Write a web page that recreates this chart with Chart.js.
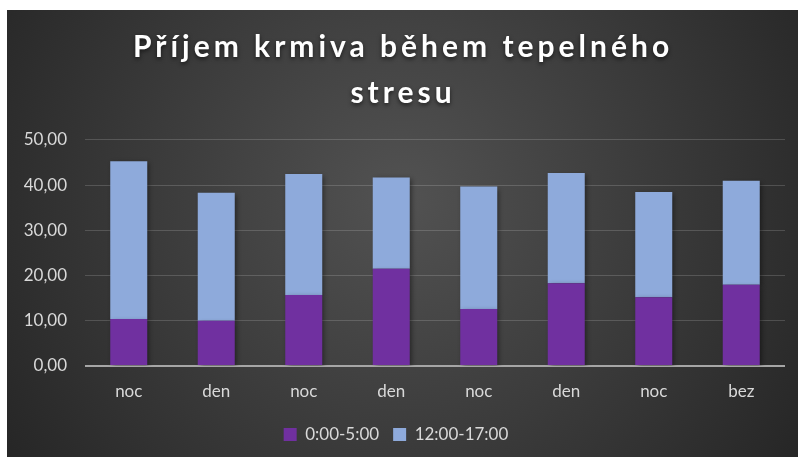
<!DOCTYPE html>
<html>
<head>
<meta charset="utf-8">
<script src="https://cdn.jsdelivr.net/npm/chart.js@4.4.0/dist/chart.umd.min.js"></script>
<style>
  html, body { margin: 0; padding: 0; background: #fff; }
  #wrap { position: absolute; left: 7px; top: 10px; width: 791px; height: 447px; }
</style>
</head>
<body>
<div id="wrap"><canvas id="feedChart" width="791" height="447"></canvas></div>
<script>
const labels = ["noc", "den", "noc", "den", "noc", "den", "noc", "bez"];
const night = [10.4, 10.0, 15.7, 21.5, 12.6, 18.3, 15.2, 18.0];   // 0:00-5:00
const day = [34.9, 28.3, 26.8, 20.2, 27.1, 24.4, 23.3, 23.0];     // 12:00-17:00
const seriesNames = ["0:00-5:00", "12:00-17:00"];
const titleLines = ["Příjem krmiva během tepelného", "stresu"];

const textGrey = '#d9d9d9';

// dark radial background like the Excel style
const bgPlugin = {
    id: 'bgPlugin',
    beforeDraw(chart) {
        const ctx = chart.ctx;
        const w = chart.width, h = chart.height;
        const g = ctx.createRadialGradient(w / 2, h * 0.42, 0, w / 2, h * 0.42, w * 0.6);
        g.addColorStop(0, '#525252');
        g.addColorStop(1, '#262626');
        ctx.save();
        ctx.fillStyle = g;
        ctx.fillRect(0, 0, w, h);
        ctx.restore();
    },
    beforeDatasetsDraw(chart) {
        const ctx = chart.ctx;
        ctx.save();
        ctx.shadowColor = 'rgba(0,0,0,0.45)';
        ctx.shadowBlur = 5;
        ctx.shadowOffsetX = 2;
        ctx.shadowOffsetY = 2;
    },
    afterDatasetsDraw(chart) {
        chart.ctx.restore();
    },
    afterLayout(chart) {
        // spaced out title with a soft glow
        const tb = chart.titleBlock;
        if (tb && !tb._spaced) {
            const orig = tb.draw;
            tb.draw = function () {
                const ctx = this.ctx;
                ctx.save();
                ctx.translate(7, 0);
                ctx.letterSpacing = '4px';
                ctx.shadowColor = 'rgba(0,0,0,0.6)';
                ctx.shadowBlur = 4;
                ctx.shadowOffsetY = 2;
                orig.call(this);
                ctx.restore();
            };
            tb._spaced = true;
        }
    }
};

const ctx = document.getElementById('feedChart').getContext('2d');

const chart = new Chart(ctx, {
    type: 'bar',
    data: {
        labels: labels,
        datasets: [
            {
                label: seriesNames[0],
                data: night,
                backgroundColor: '#7030a0',
                categoryPercentage: 1,
                barPercentage: 0.423
            },
            {
                label: seriesNames[1],
                data: day,
                backgroundColor: '#8eaadb',
                categoryPercentage: 1,
                barPercentage: 0.423
            }
        ]
    },
    options: {
        responsive: false,
        animation: false,
        devicePixelRatio: 1,
        layout: {
            padding: { left: 0, right: 13, top: 0, bottom: 4 }
        },
        plugins: {
            title: {
                display: true,
                text: titleLines,
                color: '#ffffff',
                font: { family: 'Lato', size: 30, weight: 'bold', lineHeight: 1.533 },
                padding: { top: 14, bottom: 24 }
            },
            legend: {
                position: 'bottom',
                labels: {
                    color: textGrey,
                    font: { family: 'Lato', size: 17 },
                    boxWidth: 13,
                    boxHeight: 13,
                    padding: 14
                }
            },
            tooltip: { enabled: false }
        },
        scales: {
            x: {
                stacked: true,
                grid: { display: false, drawTicks: false },
                border: { display: false },
                ticks: {
                    color: textGrey,
                    font: { family: 'Lato', size: 17 },
                    padding: 15
                },
                afterFit(scale) { scale.height = 46; }
            },
            y: {
                stacked: true,
                min: 0,
                max: 50,
                grid: {
                    drawTicks: false,
                    color: (c) => c.tick && c.tick.value === 0 ? '#a6a6a6' : 'rgba(255,255,255,0.16)',
                    lineWidth: (c) => c.tick && c.tick.value === 0 ? 2 : 1
                },
                border: { display: false },
                ticks: {
                    stepSize: 10,
                    color: textGrey,
                    font: { family: 'Lato', size: 17 },
                    padding: 18,
                    callback: (v) => v.toFixed(2).replace('.', ',')
                },
                afterFit(scale) { scale.width = 78; }
            }
        }
    },
    plugins: [bgPlugin]
});
</script>
</body>
</html>
